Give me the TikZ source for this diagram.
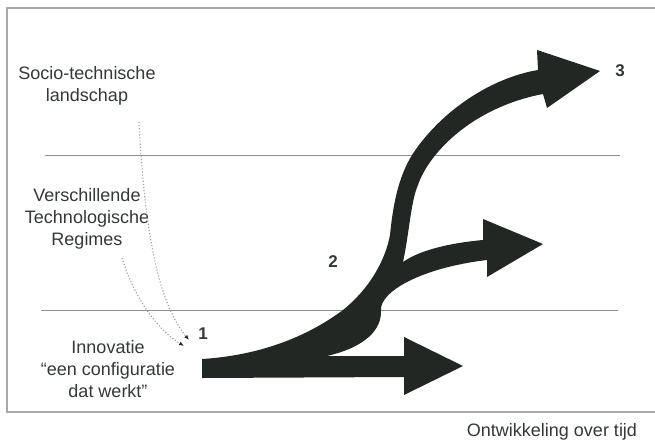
\documentclass[tikz,border=0pt]{standalone}
\usepackage{fontspec}
\setmainfont{Liberation Sans}
\usetikzlibrary{arrows.meta}
\definecolor{inkdark}{HTML}{222724}
\definecolor{labelgray}{HTML}{343837}
\definecolor{rulegray}{HTML}{8E8E8E}
\definecolor{framegray}{HTML}{A8A8A8}
\definecolor{dotgray}{HTML}{959BA2}
\tikzset{
  label/.style={text=labelgray, align=center, font=\fontsize{18}{22}\selectfont, inner sep=0pt},
  stage/.style={text=labelgray, font=\fontsize{17}{20}\selectfont\bfseries, inner sep=0pt},
  layerline/.style={draw=rulegray, line width=1pt},
  frameline/.style={draw=framegray, line width=1.4pt},
  pointer/.style={draw=dotgray, line width=1.1pt, dotted,
    -{Latex[length=5pt,width=4pt,fill=inkdark,color=inkdark]}},
  flow/.style={fill=inkdark, draw=none}
}
\begin{document}
\begin{tikzpicture}[x=1pt, y=-1pt]
\useasboundingbox (0,0) rectangle (655,441);

% outer frame (open to the right)
\draw[frameline] (655,8) -- (7,8) -- (7,412) -- (655,412);

% layer separators
\draw[layerline] (45,155) -- (620,155);
\draw[layerline] (41,310) -- (618,310);

% level labels
\node[label] (landscape) at (87,86) {Socio-technische\\landschap};
\node[label] (regimes) at (87,219) {Verschillende\\Technologische\\Regimes};
\node[label] (innovation) at (108,369) {Innovatie\\“een configuratie\\dat werkt”};
\node[text=labelgray, font=\fontsize{18}{22}\selectfont, inner sep=0pt] (timeaxis) at (552,432) {Ontwikkeling over tijd};

% stage numbers
\node[stage] (s1) at (203,334) {1};
\node[stage] (s2) at (333,262) {2};
\node[stage] (s3) at (620,71) {3};

% pointers from the upper levels down to the starting point
\coordinate (p1start) at (139,122);
\coordinate (p1end) at (189,340);
\coordinate (p2start) at (122,258);
\coordinate (p2end) at (184,346);
\draw[pointer] (p1start) .. controls (145,240) and (160,305) .. (p1end);
\draw[pointer] (p2start) .. controls (135,300) and (158,330) .. (p2end);

% branching development arrow
\path[flow]
  (202,378) -- (404,377)
  -- (404,395) -- (463,366) -- (404,337) -- (404,356)
  -- (327,356)
  .. controls (365,347) and (382,330) .. (381,310)
  .. controls (380,292) and (420,268) .. (487,260)
  -- (487,277) -- (543,244) -- (483,219) -- (483,240)
  .. controls (450,243) and (420,250) .. (403,262)
  .. controls (409,235) and (411,200) .. (418,185)
  .. controls (428,155) and (470,108) .. (543,94)
  -- (547,108) -- (600,71) -- (537,50) -- (538,70)
  .. controls (490,78) and (440,112) .. (412,155)
  .. controls (398,178) and (393,205) .. (390,235)
  .. controls (385,262) and (368,290) .. (343,310)
  .. controls (300,342) and (250,356) .. (202,359)
  -- cycle;
\end{tikzpicture}
\end{document}
